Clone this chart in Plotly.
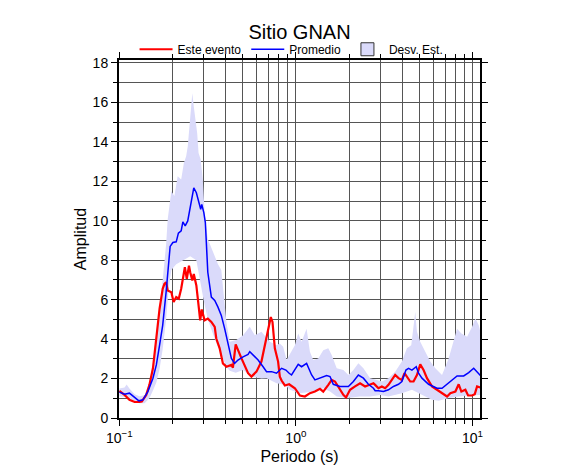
import plotly.graph_objects as go

# ---- data (periods in s, amplitudes) ----
red_T = [0.100, 0.107, 0.114, 0.122, 0.130, 0.134, 0.142, 0.148, 0.155, 0.162, 0.169, 0.176, 0.180, 0.184,
         0.188, 0.197, 0.203, 0.210, 0.217, 0.224, 0.231, 0.235, 0.241, 0.248, 0.252, 0.259, 0.264, 0.273,
         0.281, 0.287, 0.293, 0.304, 0.317, 0.332, 0.347, 0.354, 0.370, 0.386, 0.404, 0.431, 0.440, 0.456,
         0.492, 0.536, 0.560, 0.598, 0.638, 0.682, 0.721, 0.737, 0.760, 0.793, 0.811, 0.830, 0.866, 0.916,
         0.987, 1.054, 1.125, 1.201, 1.282, 1.369, 1.429, 1.526, 1.595, 1.666, 1.739, 1.857, 1.924, 2.027,
         2.164, 2.310, 2.466, 2.575, 2.750, 2.812, 2.935, 3.069, 3.205, 3.346, 3.499, 3.652, 3.813, 3.986,
         4.124, 4.256, 4.444, 4.640, 4.851, 5.064, 5.288, 5.528, 5.902, 6.302, 6.728, 7.183, 7.499, 8.007,
         8.360, 8.660, 9.124, 9.453, 9.961, 10.31, 10.63, 11.10]
red_A = [1.37, 1.17, 0.92, 0.81, 0.81, 0.84, 1.17, 1.68, 2.52, 4.03, 5.54, 6.55, 6.80, 6.88,
         6.46, 6.38, 5.88, 6.13, 6.05, 6.55, 7.22, 7.64, 7.05, 7.72, 7.39, 6.97, 7.30, 6.72,
         5.71, 4.95, 5.50, 4.95, 5.04, 4.87, 4.62, 4.03, 3.53, 2.77, 2.60, 2.69, 2.55, 3.73,
         3.02, 2.27, 2.10, 2.35, 2.86, 4.03, 5.12, 4.87, 3.53, 2.86, 2.10, 1.90, 1.65, 1.71,
         1.51, 1.14, 1.09, 1.26, 1.34, 1.48, 1.34, 1.68, 1.93, 1.85, 1.60, 1.17, 1.04, 1.43,
         1.60, 1.76, 1.60, 1.68, 1.76, 1.68, 1.51, 1.60, 1.51, 1.68, 1.93, 2.18, 2.02, 1.93,
         2.27, 2.10, 1.85, 1.85, 2.18, 2.72, 2.43, 2.02, 1.60, 1.43, 1.26, 1.09, 1.26, 1.34,
         1.71, 1.34, 1.43, 1.14, 1.14, 1.21, 1.60, 1.55]

blue_T = [0.100, 0.107, 0.114, 0.122, 0.129, 0.136, 0.145, 0.155, 0.162, 0.169, 0.176, 0.184, 0.190, 0.194,
          0.201, 0.210, 0.216, 0.224, 0.229, 0.236, 0.244, 0.250, 0.2575, 0.264, 0.273, 0.281, 0.289, 0.293,
          0.301, 0.307, 0.312, 0.317, 0.332, 0.347, 0.362, 0.378, 0.395, 0.413, 0.431, 0.450, 0.470, 0.502,
          0.536, 0.548, 0.572, 0.611, 0.652, 0.682, 0.728, 0.777, 0.830, 0.878, 0.916, 0.945, 1.031, 1.077,
          1.150, 1.228, 1.282, 1.369, 1.494, 1.561, 1.629, 1.778, 1.983, 2.117, 2.259, 2.413, 2.575, 2.750,
          2.812, 2.935, 3.134, 3.346, 3.571, 3.813, 3.986, 4.201, 4.347, 4.544, 4.807, 4.954, 5.179, 5.645,
          6.302, 6.728, 7.183, 7.669, 8.188, 8.925, 9.528, 10.17, 10.63, 11.10]
blue_A = [1.31, 1.21, 1.26, 1.04, 0.87, 0.92, 1.34, 2.02, 2.69, 3.69, 4.70, 6.38, 8.06, 8.70,
          8.90, 8.93, 9.37, 9.49, 9.94, 9.74, 9.99, 10.49, 11.25, 11.67, 11.42, 10.92, 10.58, 10.83,
          10.41, 9.91, 8.73, 7.39, 6.13, 5.96, 5.62, 5.20, 4.53, 3.69, 3.02, 2.77, 2.94, 3.10,
          3.22, 3.36, 3.19, 2.94, 2.60, 2.35, 2.35, 2.27, 2.52, 2.43, 2.27, 2.18, 2.72, 2.60,
          2.77, 2.18, 1.93, 2.02, 2.15, 2.10, 1.71, 1.60, 1.60, 1.85, 2.18, 2.02, 1.71, 1.51,
          1.38, 1.38, 1.34, 1.43, 1.60, 1.71, 1.85, 2.43, 2.52, 2.43, 2.60, 2.27, 2.02, 1.71,
          1.51, 1.51, 1.71, 1.93, 2.13, 2.13, 2.30, 2.52, 2.32, 2.15]

upper_T = [0.100, 0.107, 0.110, 0.114, 0.122, 0.130, 0.139, 0.148, 0.155, 0.162, 0.169, 0.176, 0.184, 0.188,
           0.197, 0.205, 0.214, 0.224, 0.232, 0.239, 0.244, 0.253, 0.259, 0.264, 0.272, 0.276, 0.281, 0.289,
           0.297, 0.304, 0.317, 0.339, 0.362, 0.378, 0.386, 0.404, 0.422, 0.460, 0.502, 0.548, 0.585, 0.638,
           0.712, 0.777, 0.811, 0.847, 0.886, 0.925, 0.987, 1.031, 1.077, 1.150, 1.201, 1.254, 1.339, 1.429,
           1.526, 1.595, 1.703, 1.857, 1.983, 2.117, 2.259, 2.413, 2.633, 2.874, 3.069, 3.346, 3.652, 3.986,
           4.256, 4.503, 4.640, 4.744, 4.851, 5.064, 5.408, 5.773, 6.163, 6.728, 7.334, 7.831, 8.188, 8.660,
           9.331, 9.961, 10.40, 10.86, 11.10]
upper_A = [1.50, 1.55, 1.70, 1.50, 1.20, 1.10, 1.15, 1.80, 2.80, 4.20, 5.50, 7.00, 8.80, 10.10,
           11.50, 11.25, 12.26, 12.09, 12.93, 13.27, 13.77, 15.45, 16.46, 15.79, 14.78, 14.44, 13.43, 13.10,
           12.09, 10.41, 9.07, 8.40, 7.80, 7.50, 6.72, 4.87, 3.86, 3.95, 4.20, 4.62, 4.20, 4.37,
           3.86, 3.69, 3.78, 3.61, 2.94, 3.27, 3.69, 4.28, 3.86, 4.53, 3.36, 2.94, 3.02, 3.44,
           3.53, 3.19, 2.52, 2.43, 2.18, 2.43, 2.77, 2.52, 2.02, 1.93, 1.85, 2.02, 2.35, 2.86,
           3.53, 3.69, 4.53, 5.37, 4.37, 3.86, 3.36, 2.86, 2.52, 2.18, 3.02, 3.86, 4.53, 4.28,
           4.12, 4.62, 5.04, 4.70, 4.37]

lower_T = [0.100, 0.110, 0.122, 0.130, 0.139, 0.148, 0.155, 0.162, 0.169, 0.176, 0.184, 0.190, 0.197, 0.210,
           0.231, 0.252, 0.273, 0.287, 0.300, 0.317, 0.332, 0.347, 0.362, 0.386, 0.404, 0.422, 0.456, 0.502,
           0.560, 0.638, 0.682, 0.777, 0.866, 0.925, 1.054, 1.254, 1.429, 1.561, 1.703, 1.942, 2.310, 2.633,
           3.001, 3.346, 3.986, 4.544, 4.954, 5.408, 5.902, 6.435, 7.334, 8.360, 9.528, 10.86, 11.10]
lower_A = [1.10, 1.05, 0.85, 0.75, 0.75, 1.00, 1.40, 1.80, 2.50, 3.50, 5.00, 6.50, 7.50, 7.80,
           8.00, 8.20, 8.00, 7.00, 6.00, 5.00, 4.50, 4.00, 3.60, 3.00, 2.60, 2.40, 2.30, 2.43,
           2.10, 2.00, 2.02, 1.76, 1.68, 1.43, 1.26, 1.34, 1.51, 1.34, 1.09, 1.01, 1.09, 1.09,
           1.17, 1.09, 1.26, 1.43, 1.26, 1.09, 0.92, 0.87, 1.01, 1.09, 1.14, 1.17, 1.17]

x_tick_vals = [0.1, 1, 10]
x_tick_text = ["10<sup>−1</sup>", "10<sup>0</sup>", "10<sup>1</sup>"]

BAND = "rgb(218,218,250)"
FONT = "Liberation Sans, Arial, sans-serif"

fig = go.Figure()

fig.add_trace(go.Scatter(
    x=upper_T + lower_T[::-1], y=upper_A + lower_A[::-1],
    fill="toself", fillcolor=BAND, mode="lines", line=dict(width=0),
    hoverinfo="skip", showlegend=False))

fig.add_trace(go.Scatter(x=red_T, y=red_A, mode="lines", name="Este evento",
                         line=dict(color="#ff0000", width=2.2)))
fig.add_trace(go.Scatter(x=blue_T, y=blue_A, mode="lines", name="Promedio",
                         line=dict(color="#0000ff", width=1.5)))
# legend entry for the band (square swatch)
fig.add_trace(go.Scatter(x=[None], y=[None], mode="markers", name="Desv. Est.",
                         marker=dict(symbol="square", size=13, color=BAND,
                                     line=dict(color="#333333", width=1))))

grid_col = "#555555"
fig.update_layout(
    width=578, height=467,
    margin=dict(l=111, r=106, t=52, b=55),
    paper_bgcolor="white", plot_bgcolor="white",
    font=dict(family=FONT, color="black", size=13),
    title=dict(text="Sitio GNAN", xref="paper", x=0.5, xanchor="center",
               yref="container", y=0.948, yanchor="middle",
               font=dict(size=20, family=FONT)),
    legend=dict(orientation="h", x=0.478, xanchor="center", y=1.03, yanchor="middle",
                font=dict(size=12, family=FONT), bgcolor="rgba(0,0,0,0)", itemwidth=33),
    showlegend=True,
)

fig.update_xaxes(
    type="log", range=[-1.002, 1.043],
    tickvals=x_tick_vals, ticktext=x_tick_text,
    ticks="outside", ticklen=6, tickwidth=1, tickcolor="black",
    showline=True, linewidth=2, linecolor="black", mirror="allticks",
    showgrid=True, gridcolor=grid_col, gridwidth=1,
    minor=dict(dtick="D1", ticks="outside", ticklen=4, tickcolor="black",
               showgrid=True, gridcolor=grid_col, gridwidth=1),
    title=dict(text="Periodo (s)", font=dict(size=16, family=FONT), standoff=6),
    tickfont=dict(size=14, family=FONT),
    zeroline=False,
)
fig.update_yaxes(
    range=[0, 18.15], dtick=2, tick0=0,
    ticks="outside", ticklen=6, tickwidth=1, tickcolor="black",
    showline=True, linewidth=2, linecolor="black", mirror="allticks",
    showgrid=True, gridcolor=grid_col, gridwidth=1,
    minor=dict(dtick=1, ticks="outside", ticklen=4, tickcolor="black",
               showgrid=True, gridcolor=grid_col, gridwidth=1),
    title=dict(text="Amplitud", font=dict(size=16, family=FONT), standoff=2),
    tickfont=dict(size=14, family=FONT),
    zeroline=False,
)

fig.write_html("out.html")
